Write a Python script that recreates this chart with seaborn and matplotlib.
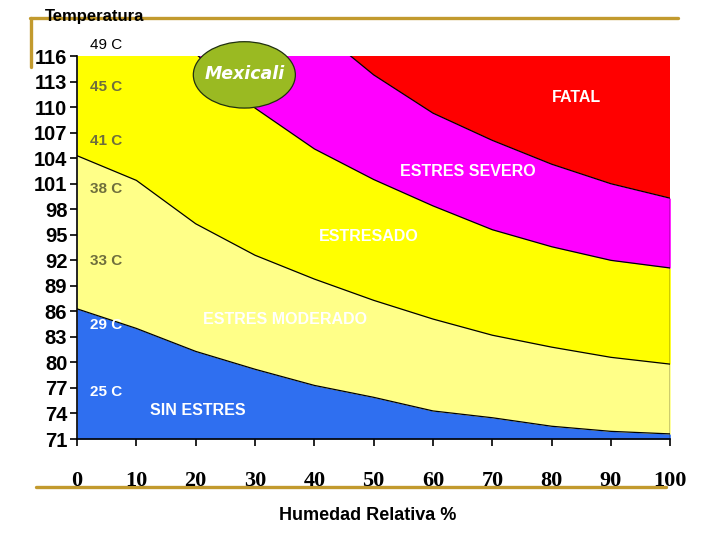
import numpy as np
import pandas as pd
import matplotlib
matplotlib.use("Agg")
import matplotlib.pyplot as plt
import seaborn as sns
from matplotlib import font_manager
from matplotlib.patches import Ellipse
from matplotlib.lines import Line2D

# Humedad relativa (%) y limites de cada zona (temperatura aparente, F)
humedad = [0, 10, 20, 30, 40, 50, 60, 70, 80, 90, 100]
lim_sin_estres = [86.3, 84.0, 81.3, 79.2, 77.3, 75.9, 74.3, 73.5, 72.5, 71.9, 71.6]
lim_moderado = [104.3, 101.4, 96.3, 92.6, 89.8, 87.3, 85.1, 83.2, 81.8, 80.6, 79.8]
lim_estresado = [128.0, 122.0, 116.3, 109.9, 105.1, 101.5, 98.4, 95.6, 93.6, 92.0, 91.1]
lim_severo = [140.0, 135.0, 129.0, 124.0, 119.5, 113.8, 109.3, 106.1, 103.3, 101.0, 99.3]

y_ticks = [71, 74, 77, 80, 83, 86, 89, 92, 95, 98, 101, 104, 107, 110, 113, 116]
x_ticks = [0, 10, 20, 30, 40, 50, 60, 70, 80, 90, 100]

zonas = ["SIN ESTRES", "ESTRES MODERADO", "ESTRESADO", "ESTRES SEVERO", "FATAL"]
colores = ["#2f6ff0", "#ffff88", "#ffff00", "#ff00ff", "#ff0000"]
temps = ["49 C", "45 C", "41 C", "38 C", "33 C", "29 C", "25 C"]

df = pd.DataFrame({"HR": humedad, "b1": lim_sin_estres, "b2": lim_moderado,
                   "b3": lim_estresado, "b4": lim_severo})

sns.set_theme(style="white")
plt.rcParams["font.family"] = ["Liberation Sans", "DejaVu Sans"]

# fuente estrecha para el eje y si existe
nombres = {f.name for f in font_manager.fontManager.ttflist}
if "Liberation Sans Narrow" in nombres:
    yfont = dict(fontfamily="Liberation Sans Narrow", fontsize=17)
else:
    yfont = dict(fontfamily="Liberation Sans", fontsize=14.5)

fig = plt.figure(figsize=(7.2, 5.4), dpi=100)
ax = fig.add_axes([0.107, 0.187, 0.824, 0.709])

y_min, y_max = y_ticks[0], y_ticks[-1]
bounds = [np.full(len(humedad), y_min), df["b1"], df["b2"], df["b3"], df["b4"],
          np.full(len(humedad), 200.0)]
for i, c in enumerate(colores):
    ax.fill_between(df["HR"], bounds[i], bounds[i + 1], color=c, lw=0)
for col in ["b1", "b2", "b3", "b4"]:
    sns.lineplot(data=df, x="HR", y=col, ax=ax, color="black", lw=0.9)
ax.vlines(humedad[-1], y_min, lim_severo[-1], color="black", lw=1)

ax.set_xlim(humedad[0], humedad[-1])
ax.set_ylim(y_min, y_max)
ax.set_xlabel("")
ax.set_ylabel("")
for s in ["top", "right"]:
    ax.spines[s].set_visible(False)
for s in ["left", "bottom"]:
    ax.spines[s].set_color("black")
    ax.spines[s].set_linewidth(1.2)

ax.set_yticks(y_ticks)
ax.set_yticklabels([str(v) for v in y_ticks], fontweight="bold", **yfont)
ax.set_xticks(x_ticks)
ax.set_xticklabels([str(v) for v in x_ticks], fontfamily="Liberation Serif",
                   fontweight="bold", fontsize=16)
ax.tick_params(axis="y", direction="out", length=5, width=1.2, pad=2,
               left=True, colors="black")
ax.tick_params(axis="x", direction="out", length=5, width=1.2, pad=18,
               bottom=True, colors="black")

# etiquetas de temperatura
olivo = "#6e6e3c"
ax.text(2.2, 117.3, temps[0], fontsize=11, color="black", va="center", clip_on=False)
for t, yv in zip(temps[1:5], [112.4, 106.0, 100.4, 91.9]):
    ax.text(2.2, yv, t, fontsize=11, fontweight="bold", color=olivo, va="center")
for t, yv in zip(temps[5:], [84.4, 76.5]):
    ax.text(2.2, yv, t, fontsize=11, fontweight="bold", color="white", va="center")

# nombres de zonas
pos = [(20.4, 74.4), (35.1, 85.0), (49.2, 94.8), (65.8, 102.5), (84.1, 111.1)]
for z, (xv, yv) in zip(zonas, pos):
    ax.text(xv, yv, z, fontsize=11.5, fontweight="bold", color="white",
            ha="center", va="center")

ell = Ellipse((28.2, 113.8), 17.2, 7.8, facecolor="#9aba22", edgecolor="#203010",
              lw=0.9, clip_on=False, zorder=5)
ax.add_patch(ell)
ax.text(28.2, 113.9, "Mexicali", fontfamily="DejaVu Sans", fontsize=12.5,
        fontweight="bold", fontstyle="italic", color="white", ha="center",
        va="center", zorder=6, clip_on=False)

# marco del estilo de la diapositiva
oro = "#c29a2e"
fig.add_artist(Line2D([0.042, 0.942], [0.9667, 0.9667], color=oro, lw=2.4))
fig.add_artist(Line2D([0.043, 0.043], [0.9667, 0.876], color=oro, lw=2.4))
fig.add_artist(Line2D([0.05, 0.925], [0.099, 0.099], color=oro, lw=2.4, zorder=0))

fig.text(0.0625, 0.970, "Temperatura", fontsize=12, fontweight="bold",
         color="black", ha="left", va="center")
fig.text(0.511, 0.046, "Humedad Relativa %", fontsize=13, fontweight="bold",
         color="black", ha="center", va="center")

fig.savefig("out.png", dpi=100)
